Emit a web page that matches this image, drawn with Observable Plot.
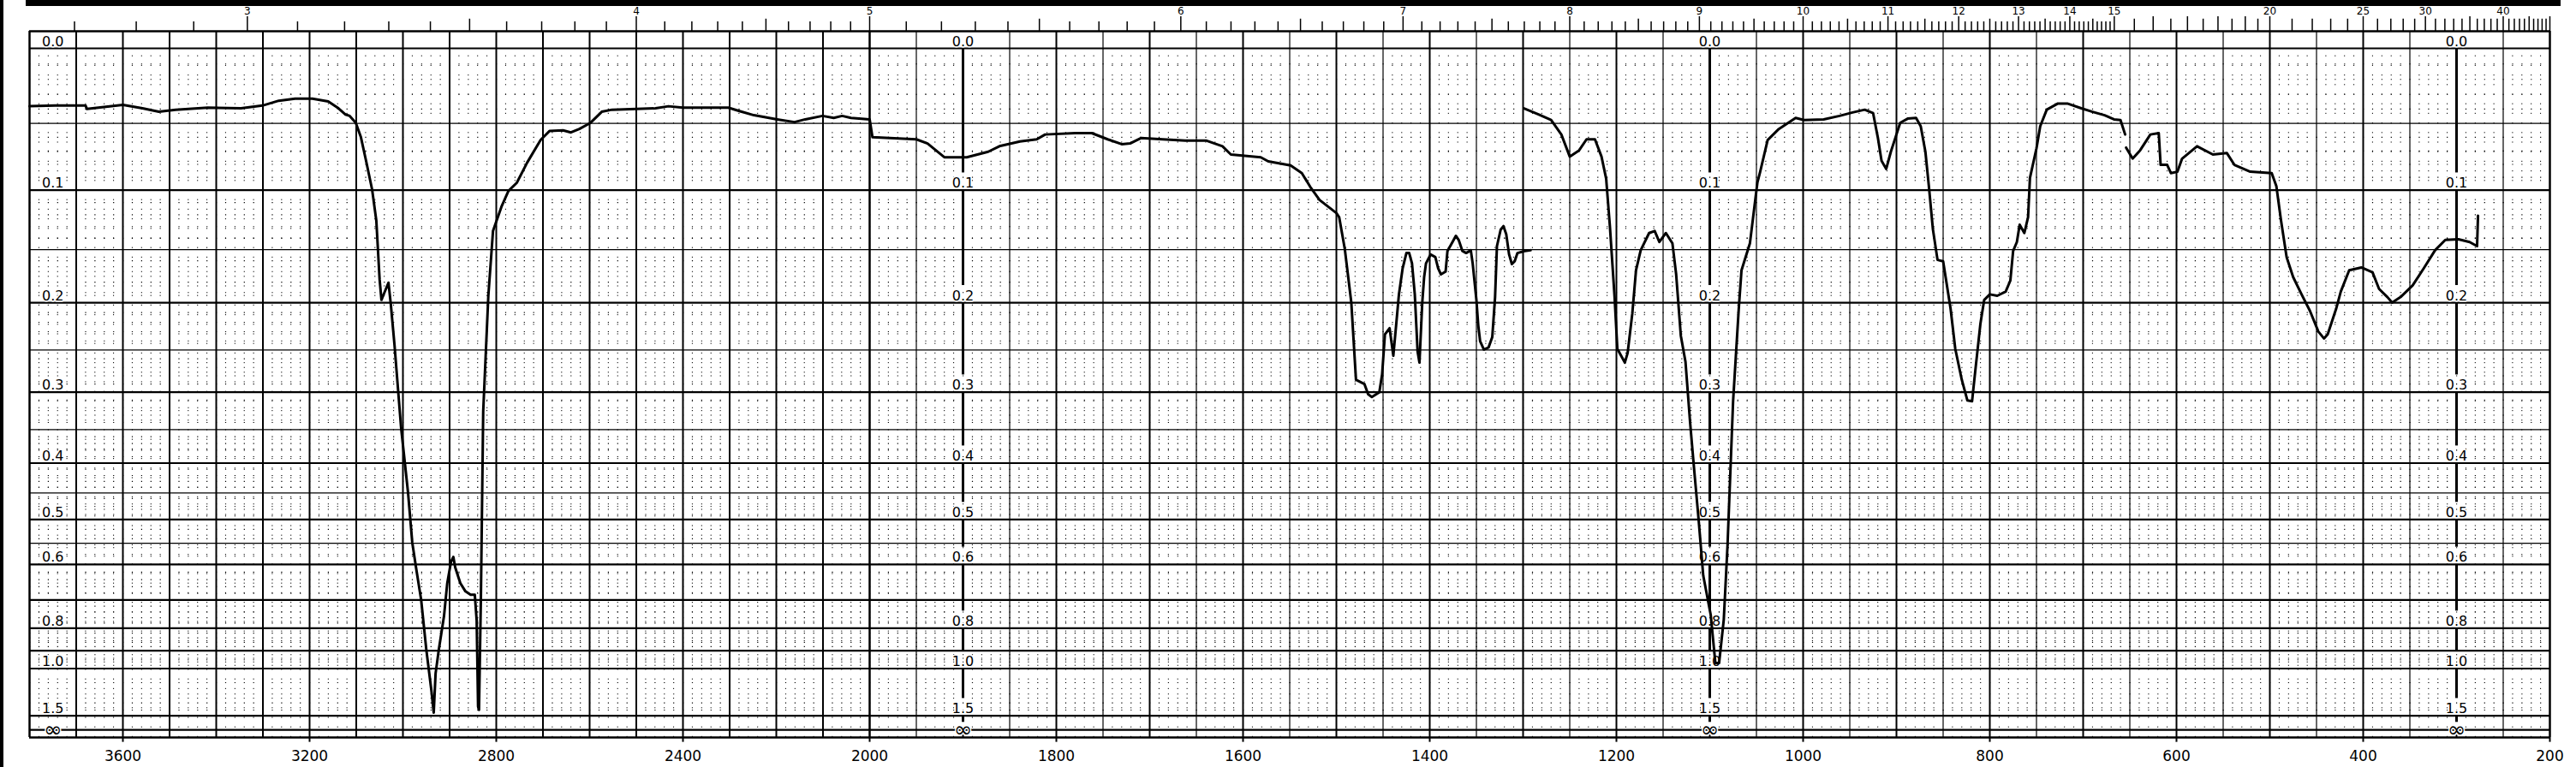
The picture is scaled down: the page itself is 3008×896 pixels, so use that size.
<!DOCTYPE html>
<html><head><meta charset="utf-8">
<script src="https://cdn.jsdelivr.net/npm/d3@7"></script>
<script src="https://cdn.jsdelivr.net/npm/@observablehq/plot@0.6"></script>
<style>
html,body{margin:0;padding:0;background:#fff;overflow:hidden;}
#wrap{position:relative;width:3008px;height:896px;}
#topbar{position:absolute;left:30px;top:0;width:2960px;height:7px;background:#000;}
#leftbar{position:absolute;left:0;top:0;width:4px;height:896px;background:#000;}
</style></head>
<body><div id="wrap"><div id="chart"></div><div id="topbar"></div><div id="leftbar"></div></div>
<script>
// ---- spectrum traces: [wavenumber cm-1, transmittance] ----
const segment1 = [[3800,.916],[3745,.917],[3699,.917],[3680,.917],[3677,.912],[3600,.918],[3558,.913],[3523,.908],[3487,.911],[3418,.914],[3347,.913],[3301,.917],[3266,.924],[3231,.927],[3194,.927],[3160,.923],[3138,.913],[3123,.904],[3114,.902],[3101,.892],[3090,.871],[3079,.837],[3066,.795],[3057,.75],[3050,.665],[3046,.635],[3040,.645],[3031,.66],[3026,.629],[3018,.569],[3004,.45],[2989,.355],[2980,.283],[2972,.247],[2961,.2],[2950,.128],[2939,.068],[2934,.036],[2930,.093],[2923,.128],[2912,.176],[2905,.224],[2897,.255],[2892,.262],[2888,.247],[2877,.224],[2866,.212],[2855,.207],[2846,.207],[2842,.17],[2839,.045],[2837,.04],[2833,.2],[2828,.473],[2817,.641],[2807,.735],[2789,.77],[2774,.793],[2756,.805],[2734,.834],[2705,.867],[2686,.88],[2657,.881],[2640,.878],[2622,.883],[2598,.892],[2574,.908],[2552,.911],[2459,.913],[2431,.916],[2400,.914],[2303,.914],[2279,.909],[2248,.903],[2198,.897],[2161,.893],[2138,.897],[2101,.902],[2077,.899],[2059,.902],[2040,.899],[2000,.897],[1997,.871],[1950,.868],[1938,.862],[1920,.842],[1896,.842],[1873,.85],[1861,.858],[1839,.865],[1821,.868],[1812,.875],[1780,.877],[1762,.877],[1745,.868],[1730,.861],[1721,.862],[1709,.87],[1686,.868],[1662,.866],[1639,.866],[1622,.858],[1613,.846],[1581,.842],[1573,.836],[1549,.83],[1537,.819],[1528,.799],[1518,.78],[1500,.761],[1497,.755],[1491,.709],[1484,.631],[1479,.519],[1470,.513],[1466,.498],[1462,.494],[1454,.501],[1451,.527],[1448,.585],[1443,.594],[1439,.554],[1436,.598],[1433,.643],[1429,.681],[1425,.703],[1422,.703],[1419,.688],[1416,.643],[1413,.56],[1411,.544],[1408,.631],[1406,.668],[1404,.688],[1399,.701],[1394,.697],[1391,.681],[1388,.672],[1383,.676],[1381,.706],[1376,.718],[1372,.728],[1369,.722],[1365,.706],[1361,.703],[1356,.707],[1354,.688],[1350,.635],[1348,.598],[1346,.575],[1342,.563],[1337,.566],[1333,.581],[1330,.639],[1328,.713],[1324,.737],[1321,.742],[1318,.73],[1315,.701],[1312,.687],[1309,.691],[1306,.703],[1298,.706],[1292,.707]];
const segment2 = [[1299,.913],[1283,.904],[1270,.896],[1259,.875],[1250,.843],[1240,.852],[1232,.868],[1223,.868],[1216,.843],[1211,.811],[1207,.742],[1202,.64],[1199,.564],[1191,.544],[1188,.558],[1183,.615],[1179,.678],[1174,.707],[1165,.732],[1159,.735],[1154,.719],[1147,.732],[1140,.717],[1136,.672],[1131,.583],[1126,.545],[1121,.456],[1117,.393],[1112,.317],[1107,.235],[1099,.178],[1094,.108],[1090,.108],[1085,.171],[1081,.278],[1075,.488],[1069,.621],[1066,.678],[1057,.717],[1049,.805],[1046,.821],[1038,.867],[1026,.883],[1008,.899],[999,.896],[978,.897],[961,.902],[947,.907],[934,.911],[925,.906],[920,.871],[916,.837],[911,.825],[906,.85],[901,.871],[896,.892],[888,.898],[879,.899],[874,.887],[869,.85],[865,.796],[861,.738],[856,.693],[850,.691],[842,.622],[837,.564],[830,.519],[824,.489],[819,.488],[815,.539],[810,.601],[806,.635],[800,.643],[792,.641],[783,.647],[778,.663],[775,.706],[771,.719],[768,.744],[763,.732],[759,.755],[757,.812],[750,.855],[746,.887],[739,.911],[727,.92],[717,.92],[702,.913],[690,.908],[677,.903],[667,.897],[660,.896],[655,.875]];
const segment3 = [[654,.856],[647,.84],[639,.852],[628,.875],[619,.877],[617,.831],[610,.831],[606,.819],[599,.821],[594,.84],[578,.858],[561,.846],[546,.848],[538,.831],[521,.821],[498,.819],[493,.8],[488,.75],[482,.697],[475,.668],[466,.643],[457,.619],[448,.589],[442,.579],[438,.585],[429,.622],[424,.647],[415,.678],[402,.682],[390,.675],[383,.651],[374,.639],[369,.631],[360,.639],[347,.656],[335,.681],[323,.707],[312,.722],[298,.723],[286,.719],[278,.713],[277,.757]];

// ---- tick labels ----
const wavenumberTicks = [3600,3200,2800,2400,2000,1800,1600,1400,1200,1000,800,600,400,200];
const absorbanceTicks = [0.0,0.1,0.2,0.3,0.4,0.5,0.6,0.8,1.0,1.5];
const absorbanceLabels = ["0.0","0.1","0.2","0.3","0.4","0.5","0.6","0.8","1.0","1.5"];
const absorbanceColumns = [3750,1900,1100,300];
const micronLabels = [3,4,5,6,7,8,9,10,11,12,13,14,15,20,25,30,40];

// ---- chart paper geometry (in scale units) ----
const T = a => Math.pow(10, -a);
const INF_T = 0.011, TOP_T = 1.0248, BOT_TICK_T = -0.007, XLAB_T = -0.034;
const MU_LONG = 1.046, MU_MED = 1.0425, MU_SHORT = 1.0385, MU_LAB = 1.0486;
const LABEL_GAP_T = 0.025, INF_GAP_T = 0.011;

const absMajor = [0,0.1,0.2,0.3,0.4,0.5,0.6,0.7,0.8,0.9,1.0,1.5];
const absHalf = [0.05,0.15,0.25,0.35,0.45,0.55];
const absMinor = [
  ...d3.range(1,50).map(i=>i/100).filter(v=>Math.round(v*100)%5!==0),
  ...d3.range(52,100,2).map(i=>i/100).filter(v=>Math.round(v*100)%10!==0 && Math.round(v*100)!==55),
  1.1,1.2,1.3,1.4
];
const innerColumns = absorbanceColumns.slice(1);
const upperMinorX = d3.range(3780,2000,-20).filter(v=>v%100!==0);
const lowerMinorX = d3.range(1990,200,-10).filter(v=>v%50!==0);
const upperMajorX = d3.range(3700,2000,-100);
const lowerMajorX = d3.range(1900,200,-100).filter(v=>!innerColumns.includes(v));
const lowerHalfX = d3.range(1950,200,-100);

const micronTicks = [
  ...d3.range(26,151).map(i=>({mu:i/10, k: i%10===0 ? "L" : (i%5===0 ? "M" : "S")})),
  ...d3.range(31,41).map(i=>({mu:i/2, k: i%2===0 ? "L" : "M"})),
  ...d3.range(21,51).map(i=>({mu:i, k: i%5===0 ? "L" : "M"}))
].filter(d => 10000/d.mu <= 3800 && 10000/d.mu >= 200);
const muTop = {L: MU_LONG, M: MU_MED, S: MU_SHORT};

const toRows = seg => seg.map(([w,t]) => ({w, t}));
const labelRows = d3.cross(absorbanceColumns, d3.range(absorbanceTicks.length)).map(([c,i]) => ({w:c, t:T(absorbanceTicks[i]), label:absorbanceLabels[i]}));
// thick scale bar pieces between the labels of the inner columns
const columnPieces = d3.cross(innerColumns, d3.range(1, absorbanceTicks.length + 1)).map(([c,i]) => ({
  w: c,
  t1: T(absorbanceTicks[i-1]),
  t2: i < absorbanceTicks.length ? T(absorbanceTicks[i]) + LABEL_GAP_T : INF_T + INF_GAP_T
}));

const ink = "#000";
const chart = Plot.plot({
  width: 3008, height: 896, margin: 0,
  x: {type: "linear", domain: [3800, 2000, 200], range: [34, 1015, 2977], axis: null},
  y: {type: "linear", domain: [0, 1], range: [861, 56], axis: null},
  style: {fontFamily: "'DejaVu Sans', sans-serif", background: "#fff", color: "#000"},
  marks: [
    // dotted minor grid
    Plot.ruleX([...upperMinorX, ...lowerMinorX], {x: d=>d, y1: 0, y2: 1, stroke: ink, strokeWidth: 1, strokeDasharray: "1.2,10"}),
    Plot.ruleY(absMinor, {y: a=>T(a), x1: 3800, x2: 200, stroke: ink, strokeWidth: 1.1, strokeDasharray: "1.2,9.7"}),
    // solid grid
    Plot.ruleX(upperMajorX, {x: d=>d, y1: 0, y2: TOP_T, stroke: ink, strokeWidth: 2}),
    Plot.ruleX(lowerMajorX, {x: d=>d, y1: 0, y2: TOP_T, stroke: ink, strokeWidth: 2}),
    Plot.ruleX(lowerHalfX, {x: d=>d, y1: 0, y2: TOP_T, stroke: ink, strokeWidth: 1.2}),
    Plot.ruleX(innerColumns, {x: d=>d, y1: 0, y2: INF_T - 0.004, stroke: ink, strokeWidth: 2}),
    Plot.ruleX([2000], {x: d=>d, y1: 0, y2: TOP_T, stroke: ink, strokeWidth: 2.5}),
    Plot.ruleY(absHalf, {y: a=>T(a), x1: 3800, x2: 200, stroke: ink, strokeWidth: 1.3}),
    Plot.ruleY(absMajor, {y: a=>T(a), x1: 3800, x2: 200, stroke: ink, strokeWidth: 2.2}),
    Plot.ruleY([INF_T], {y: d=>d, x1: 3800, x2: 200, stroke: ink, strokeWidth: 2.4}),
    // frame
    Plot.ruleX([3800, 200], {x: d=>d, y1: 0, y2: TOP_T, stroke: ink, strokeWidth: 2.5}),
    Plot.ruleY([0, TOP_T], {y: d=>d, x1: 3800, x2: 200, stroke: ink, strokeWidth: 2.5}),
    // micron scale on top
    Plot.ruleX(micronTicks, {x: d=>10000/d.mu, y1: TOP_T, y2: d=>muTop[d.k], stroke: ink, strokeWidth: 1.5}),
    Plot.text(micronLabels, {x: m=>10000/m, y: MU_LAB, text: m=>String(m), lineAnchor: "bottom", fontSize: 12, fill: ink}),
    // bottom ticks and wavenumber labels
    Plot.ruleX(wavenumberTicks, {x: d=>d, y1: 0, y2: BOT_TICK_T, stroke: ink, strokeWidth: 2}),
    Plot.text(wavenumberTicks, {x: d=>d, y: XLAB_T, text: d=>String(d), lineAnchor: "bottom", fontSize: 17, fill: ink}),
    // absorbance labels (with white knock-out so dotted grid does not cross them)
    Plot.text(labelRows, {x: "w", y: "t", text: "label", lineAnchor: "bottom", dy: -3, fontSize: 16, fill: ink, stroke: "#fff", strokeWidth: 3, paintOrder: "stroke"}),
    Plot.ruleX(columnPieces, {x: "w", y1: "t1", y2: "t2", stroke: ink, strokeWidth: 3}),
    Plot.text(absorbanceColumns, {x: d=>d, y: INF_T, text: d=>"\u221e", lineAnchor: "middle", fontSize: 26, fill: ink, stroke: "#fff", strokeWidth: 3, paintOrder: "stroke"}),
    // spectrum
    Plot.line(toRows(segment1), {x: "w", y: "t", stroke: ink, strokeWidth: 3, strokeLinejoin: "round"}),
    Plot.line(toRows(segment2), {x: "w", y: "t", stroke: ink, strokeWidth: 3, strokeLinejoin: "round"}),
    Plot.line(toRows(segment3), {x: "w", y: "t", stroke: ink, strokeWidth: 3, strokeLinejoin: "round"})
  ]
});
document.getElementById("chart").appendChild(chart);
</script>
</body></html>
